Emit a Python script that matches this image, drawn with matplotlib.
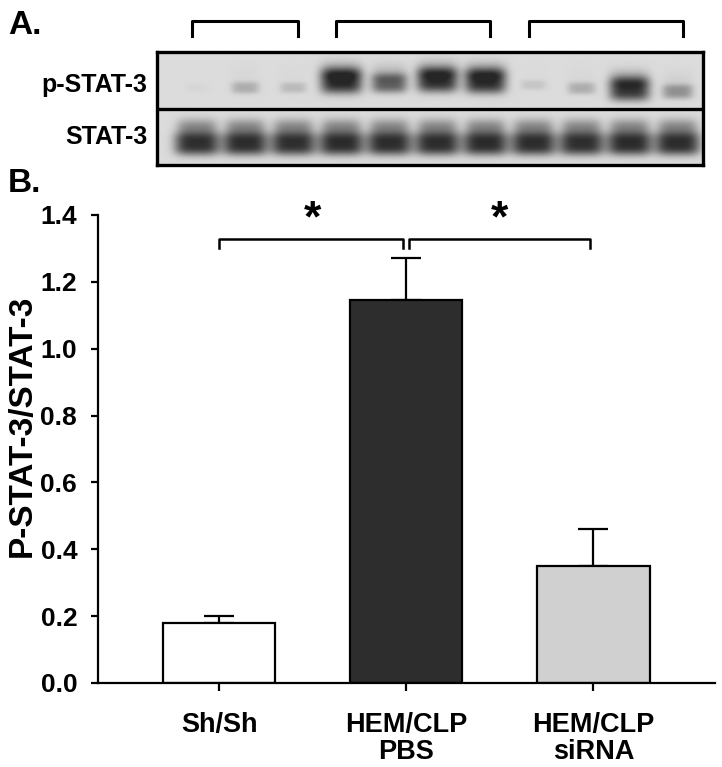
import numpy as np
import matplotlib
matplotlib.use('Agg')
import matplotlib.pyplot as plt

plt.rcParams['font.family'] = ['Liberation Sans', 'DejaVu Sans']
plt.rcParams['font.weight'] = 'bold'

# Panel A: western blot, 11 lanes, relative band darkness (0..1)
blot_rows = ['p-STAT-3', 'STAT-3']
pstat_level = [0.03, 0.25, 0.18, 0.97, 0.68, 0.94, 0.95, 0.12, 0.25, 0.90, 0.40]
pstat_ypos = [0.63, 0.63, 0.63, 0.52, 0.55, 0.50, 0.52, 0.58, 0.64, 0.66, 0.70]
stat_level = [0.95, 0.96, 0.95, 0.97, 0.96, 0.96, 0.97, 0.96, 0.95, 0.97, 0.96]
lane_groups = [(0, 2), (3, 6), (7, 10)]

# Panel B: densitometry
groups = ['Sh/Sh', 'HEM/CLP\nPBS', 'HEM/CLP\nsiRNA']
ratio = [0.18, 1.145, 0.35]
sem = [0.02, 0.125, 0.11]
bar_colors = ['white', '#2d2d2d', '#d0d0d0']
sig_pairs = [(0, 1), (1, 2)]

W, H = 722, 767
fig = plt.figure(figsize=(W / 100, H / 100), dpi=100)


def px_axes(x0, y0, x1, y1):
    # pixel box (top-left origin) -> figure axes
    return fig.add_axes([x0 / W, 1 - y1 / H, (x1 - x0) / W, (y1 - y0) / H])


# ---- blot ----
ax_b = px_axes(157, 52, 703, 165)
xlo, xhi = -0.83, 10.52
xs = np.linspace(xlo, xhi, 700)
ys = np.linspace(0, 2, 260)
X, Y = np.meshgrid(xs, ys)
dark = np.zeros_like(X)
top = Y < 1
for i, (lvl, yc) in enumerate(zip(pstat_level, pstat_ypos)):
    wx = 0.24 + 0.2 * lvl
    wy = 0.07 + 0.15 * lvl
    dark += top * lvl * np.exp(-np.abs((X - i) / wx) ** 4 - np.abs((Y - yc) / wy) ** 3)
    dark += top * 0.35 * lvl ** 2 * np.exp(-np.abs((X - i) / wx) ** 4 - ((Y - yc + 0.2) / 0.16) ** 2)
for i, lvl in enumerate(stat_level):
    dark += ~top * lvl * np.exp(-np.abs((X - i) / 0.47) ** 4 - np.abs((Y - 1.62) / 0.21) ** 3)
    dark += ~top * 0.45 * lvl * np.exp(-np.abs((X - i) / 0.42) ** 4 - ((Y - 1.32) / 0.14) ** 2)
bg = 0.86
img = bg - (bg - 0.15) * np.clip(dark, 0, 1)
ax_b.imshow(img, cmap='gray', vmin=0, vmax=1, extent=(xlo, xhi, 2, 0),
            aspect='auto', interpolation='bilinear')
ax_b.set_xlim(xlo, xhi)
ax_b.set_ylim(2, 0)
ax_b.set_xticks([])
ax_b.set_yticks([])
for s in ax_b.spines.values():
    s.set_linewidth(2.4)
ax_b.axhline(1, color='black', lw=2.4)
for k, name in enumerate(blot_rows):
    ax_b.text(-0.018, 0.58 + k * 0.93, name, transform=ax_b.get_yaxis_transform(),
              ha='right', va='center', fontsize=18, fontweight='bold')
for a, b in lane_groups:
    ax_b.plot([a - 0.1, a - 0.1, b + 0.1, b + 0.1], [-0.28, -0.55, -0.55, -0.28],
              color='black', lw=2.2, clip_on=False)

fig.text(8 / W, 1 - 25 / H, 'A.', fontsize=24, fontweight='bold', va='center')
fig.text(8 / W, 1 - 183 / H, 'B.', fontsize=24, fontweight='bold', va='center')

# ---- bar chart ----
ax = px_axes(98, 215, 715, 683)
x = np.arange(len(groups))
ax.bar(x, ratio, width=0.6, color=bar_colors, edgecolor='black', linewidth=1.6, zorder=2)
ax.errorbar(x, ratio, yerr=[np.zeros(len(sem)), sem], fmt='none', ecolor='black',
            elinewidth=1.6, capsize=11, capthick=1.6, zorder=1)
ax.set_xlim(-0.647, 2.65)
ax.set_ylim(0, 1.4)
ax.set_yticks(np.arange(0, 1.41, 0.2))
ax.set_yticklabels(['%.1f' % v for v in np.arange(0, 1.41, 0.2)])
ax.set_xticks(x)
ax.set_xticklabels(groups, linespacing=1.05)
ax.spines['top'].set_visible(False)
ax.spines['right'].set_visible(False)
for s in ('left', 'bottom'):
    ax.spines[s].set_linewidth(1.6)
ax.tick_params(axis='y', length=5, width=1.6, labelsize=19, pad=10)
ax.tick_params(axis='x', length=6, width=1.6, labelsize=19.5, pad=15)
for lab in ax.get_xticklabels() + ax.get_yticklabels():
    lab.set_fontweight('bold')
ax.set_ylabel('P-STAT-3/STAT-3', fontsize=24, fontweight='bold')
ax.yaxis.set_label_coords(-0.097, 0.55)

for a, b in sig_pairs:
    l = a + (0.0 if a == 0 else 0.015)
    r = b - (0.015 if b == 1 else 0.02)
    ax.plot([l, l, r, r], [1.30, 1.328, 1.328, 1.30], color='black', lw=1.8, clip_on=False)
    ax.text((a + b) / 2, 1.385, '*', ha='center', va='center', fontsize=32,
            fontweight='bold', clip_on=False)

fig.savefig('out.png', dpi=100)
